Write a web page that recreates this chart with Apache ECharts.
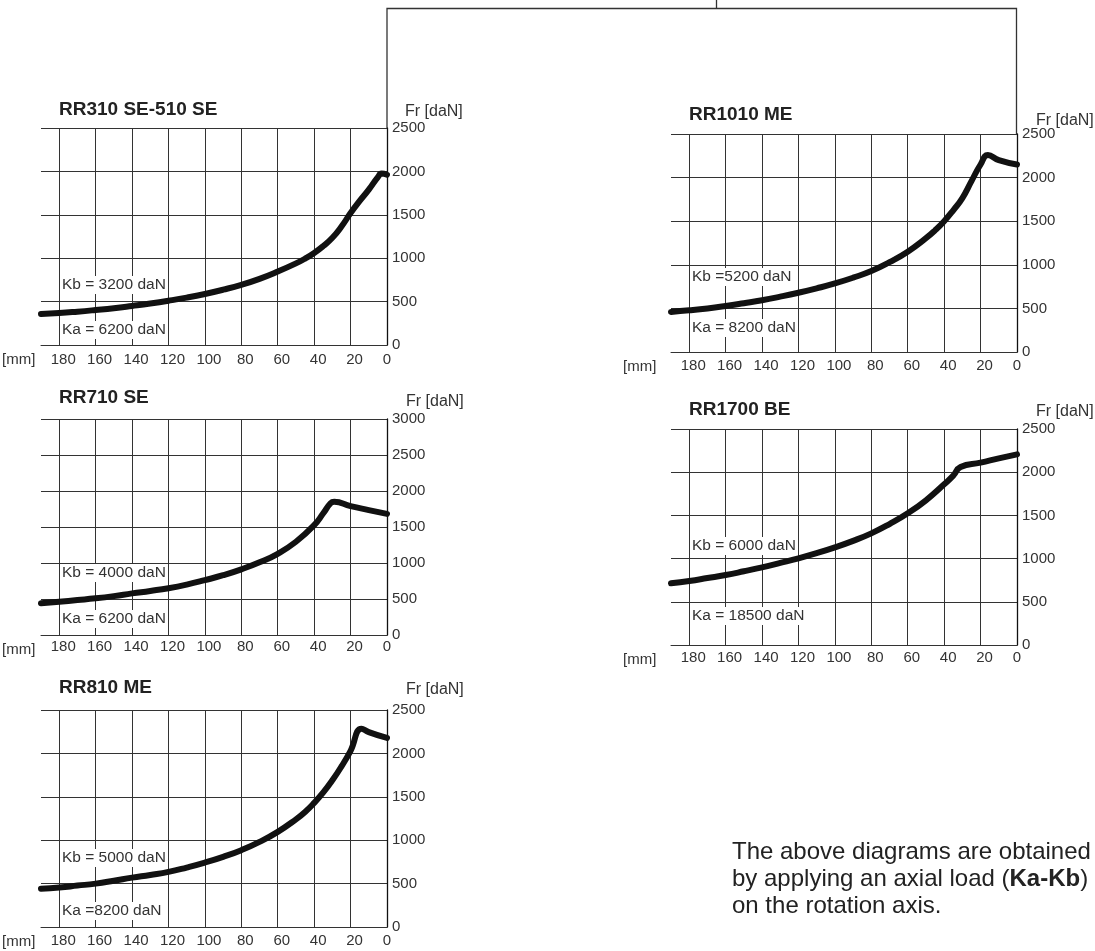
<!DOCTYPE html>
<html>
<head>
<meta charset="utf-8">
<title>Radial load diagrams</title>
<script src="https://cdn.jsdelivr.net/npm/echarts@6/dist/echarts.min.js"></script>
<style>
  html, body { margin: 0; padding: 0; background: #fff; }
  #chart { width: 1095px; height: 951px; }
</style>
</head>
<body>
<div id="chart"></div>
<script>
// Curve data: admissible radial load Fr [daN] against distance [mm]
const rr310Mm = [190, 180, 170, 160, 150, 140, 130, 120, 110, 100, 90, 80, 70, 60, 50, 45, 40, 35, 30, 25, 20, 15, 10, 5, 3, 0];
const rr310Fr = [358, 368, 384, 403, 424, 450, 478, 510, 546, 588, 637, 693, 762, 846, 940, 995, 1060, 1140, 1235, 1365, 1520, 1660, 1790, 1935, 1975, 1962];

const rr1010Mm = [190, 180, 170, 160, 150, 140, 130, 120, 110, 100, 90, 80, 70, 60, 50, 45, 40, 35, 30, 25, 20, 16, 10, 0];
const rr1010Fr = [460, 478, 500, 528, 560, 594, 635, 680, 730, 786, 852, 928, 1030, 1150, 1305, 1395, 1500, 1625, 1765, 1960, 2150, 2258, 2200, 2150];

const rr710Mm = [190, 180, 170, 160, 150, 140, 130, 120, 110, 100, 90, 80, 70, 60, 50, 40, 35, 31, 29, 20, 10, 0];
const rr710Fr = [440, 462, 485, 509, 540, 578, 612, 650, 700, 762, 830, 912, 1010, 1128, 1295, 1525, 1690, 1830, 1850, 1790, 1735, 1682];

const rr1700Mm = [190, 180, 170, 160, 150, 140, 130, 120, 110, 100, 90, 80, 70, 60, 50, 40, 35, 31, 20, 10, 0];
const rr1700Fr = [714, 741, 775, 810, 853, 899, 950, 1003, 1063, 1130, 1205, 1292, 1400, 1524, 1675, 1860, 1960, 2060, 2110, 2160, 2207];

const rr810Mm = [190, 180, 170, 160, 150, 140, 130, 120, 110, 100, 90, 80, 70, 60, 50, 45, 40, 35, 30, 25, 20, 14, 10, 0];
const rr810Fr = [442, 455, 477, 500, 533, 569, 600, 635, 685, 742, 808, 885, 980, 1096, 1240, 1325, 1430, 1550, 1690, 1850, 2030, 2285, 2245, 2178];

// Axis ranges
const mmMax = 190;
const mmStep = 20;
const frStep = 500;
const frMaxes = [2500, 2500, 3000, 2500, 2500];

// Texts
const titles = ['RR310 SE-510 SE', 'RR1010 ME', 'RR710 SE', 'RR1700 BE', 'RR810 ME'];
const kbLabels = ['Kb = 3200 daN', 'Kb =5200 daN', 'Kb = 4000 daN', 'Kb = 6000 daN', 'Kb = 5000 daN'];
const kaLabels = ['Ka = 6200 daN', 'Ka = 8200 daN', 'Ka = 6200 daN', 'Ka = 18500 daN', 'Ka =8200 daN'];
const frName = 'Fr [daN]';
const mmName = '[mm]';
const noteLines = ['The above diagrams are obtained', 'by applying an axial load ({b|Ka-Kb})', 'on the rotation axis.'];

const curves = [
  [rr310Mm, rr310Fr],
  [rr1010Mm, rr1010Fr],
  [rr710Mm, rr710Fr],
  [rr1700Mm, rr1700Fr],
  [rr810Mm, rr810Fr]
];

// Panel layout (pixels)
const panels = [
  { left: 41,  top: 128, h: 217, titleY: 110, frX: 405,  frY: 112, mmX: 2,   kbY: 285, kaY: 330, xMargin: 7 },
  { left: 671, top: 134, h: 218, titleY: 115, frX: 1036, frY: 121, mmX: 623, kbY: 277, kaY: 328, xMargin: 6 },
  { left: 41,  top: 419, h: 216, titleY: 398, frX: 406,  frY: 402, mmX: 2,   kbY: 573, kaY: 619, xMargin: 4.5 },
  { left: 671, top: 429, h: 216, titleY: 410, frX: 1036, frY: 412, mmX: 623, kbY: 546, kaY: 616, xMargin: 5.5 },
  { left: 41,  top: 710, h: 217, titleY: 688, frX: 406,  frY: 690, mmX: 2,   kbY: 858, kaY: 911, xMargin: 6 }
];
const plotW = 346;

const FONT = '"Liberation Sans", Arial, Helvetica, sans-serif';
const INK = '#222';
const GRIDC = '#333';

const grids = [], xAxes = [], yAxes = [], series = [], graphics = [];

panels.forEach((p, i) => {
  grids.push({ left: p.left, top: p.top, width: plotW, height: p.h, containLabel: false });

  xAxes.push({
    gridIndex: i, type: 'value', min: 0, max: mmMax, interval: mmStep, inverse: true,
    axisLine: { show: true, lineStyle: { color: GRIDC, width: 1 } },
    axisTick: { show: false },
    splitLine: { show: true, showMaxLine: false, lineStyle: { color: GRIDC, width: 1 } },
    axisLabel: {
      show: true, showMaxLabel: false, margin: p.xMargin,
      color: '#333', fontFamily: FONT, fontSize: 15,
      formatter: v => (v >= mmMax ? '' : (v === 0 ? '{z|0}' : '{n|' + v + '}')),
      rich: {
        n: { fontFamily: FONT, fontSize: 15, color: '#333', padding: [0, 0, 0, 8] },
        z: { fontFamily: FONT, fontSize: 15, color: '#333' }
      }
    }
  });

  yAxes.push({
    gridIndex: i, type: 'value', position: 'right', min: 0, max: frMaxes[i], interval: frStep,
    axisLine: { show: true, lineStyle: { color: '#111', width: 1.3 } },
    axisTick: { show: false },
    splitLine: { show: true, lineStyle: { color: GRIDC, width: 1 } },
    axisLabel: {
      show: true, margin: 5, color: '#333', fontFamily: FONT, fontSize: 15,
      verticalAlign: 'middle', padding: [8, 0, 0, 0],
      formatter: v => String(v)
    }
  });

  const mm = curves[i][0], fr = curves[i][1];
  series.push({
    type: 'line', xAxisIndex: i, yAxisIndex: i,
    data: mm.map((m, k) => [m, fr[k]]),
    smooth: 0.5, showSymbol: false, clip: true,
    lineStyle: { color: '#111', width: 6, cap: 'round', join: 'round' },
    z: 3, silent: true
  });

  // Panel title
  graphics.push({
    type: 'text', x: p.left + 18, y: p.titleY, z: 10,
    style: { text: titles[i], fill: INK, fontFamily: FONT, fontSize: 19, fontWeight: 'bold', verticalAlign: 'middle' }
  });
  // Axis unit names
  graphics.push({
    type: 'text', x: p.frX, y: p.frY, z: 10,
    style: { text: frName, fill: '#333', fontFamily: FONT, fontSize: 16, verticalAlign: 'middle' }
  });
  graphics.push({
    type: 'text', x: p.mmX, y: p.top + p.h + 15, z: 10,
    style: { text: mmName, fill: '#333', fontFamily: FONT, fontSize: 15, verticalAlign: 'middle' }
  });
  // Axial load notes
  [[kbLabels[i], p.kbY], [kaLabels[i], p.kaY]].forEach(([t, y]) => {
    graphics.push({
      type: 'text', x: p.left + 19, y: y, z: 10,
      style: {
        text: t, fill: '#333', fontFamily: FONT, fontSize: 15.5, verticalAlign: 'middle',
        backgroundColor: '#fff', padding: [1, 2, 1, 2]
      }
    });
  });
});

// Bracket connecting the two upper panels
const lineStyle = { stroke: '#333', lineWidth: 1.3, fill: null };
graphics.push({ type: 'polyline', z: 5, shape: { points: [[387, 128], [387, 8.5], [1016.5, 8.5], [1016.5, 134]] }, style: lineStyle });
graphics.push({ type: 'line', z: 5, shape: { x1: 716.5, y1: 0, x2: 716.5, y2: 8.5 }, style: lineStyle });

// Footnote (left-aligned block)
graphics.push({
  type: 'text', x: 732, y: 879, z: 10,
  style: {
    text: noteLines.join('\n'), fill: '#222', fontFamily: FONT, fontSize: 24, lineHeight: 27,
    align: 'left', verticalAlign: 'middle',
    rich: { b: { fontFamily: FONT, fontSize: 24, fontWeight: 'bold', fill: '#222', lineHeight: 27 } }
  }
});

const chart = echarts.init(document.getElementById('chart'), null, { renderer: 'canvas' });
chart.setOption({
  backgroundColor: '#fff',
  animation: false,
  grid: grids,
  xAxis: xAxes,
  yAxis: yAxes,
  series: series,
  graphic: graphics
});
</script>
</body>
</html>
